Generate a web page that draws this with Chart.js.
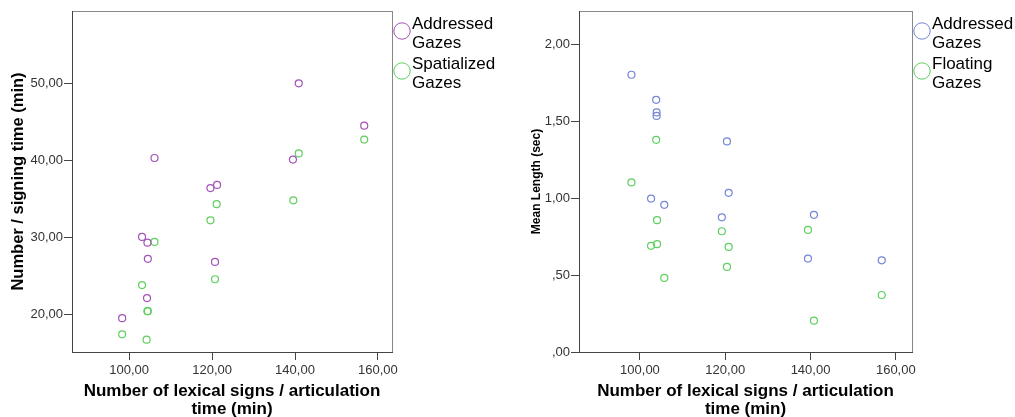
<!DOCTYPE html>
<html>
<head>
<meta charset="utf-8">
<script src="https://cdn.jsdelivr.net/npm/chart.js@4"></script>
<style>
  body { margin: 0; background: #fff; }
  .box { position: absolute; top: 0; }
</style>
</head>
<body>
<div class="box" style="left:0"><canvas id="signingChart" width="510" height="417"></canvas></div>
<div class="box" style="left:510px"><canvas id="lengthChart" width="505" height="417"></canvas></div>
<script>
// shared x axis ticks
const xTicks = [100, 120, 140, 160];

// left chart: signing time
const signingNames = ['Addressed Gazes', 'Spatialized Gazes'];
const signingYTicks = [20, 30, 40, 50];
const addressedX = [98.3, 103.1, 104.4, 104.5, 104.3, 106.1, 119.6, 121.2, 120.7, 139.5, 140.9, 156.7];
const addressedY = [19.5, 30.05, 29.3, 27.2, 22.1, 40.3, 36.4, 36.8, 26.8, 40.1, 50.0, 44.5];
const spatializedX = [98.3, 103.1, 104.4, 104.5, 104.2, 106.1, 119.6, 121.1, 120.7, 139.6, 140.9, 156.7];
const spatializedY = [17.4, 23.8, 20.4, 20.4, 16.7, 29.4, 32.2, 34.3, 24.55, 34.8, 40.9, 42.7];

// right chart: mean length
const lengthNames = ['Addressed Gazes', 'Floating Gazes'];
const lengthYTicks = [0, 0.5, 1, 1.5, 2];
const addrLenX = [98.0, 103.8, 103.9, 103.9, 120.4, 102.6, 105.7, 120.8, 119.2, 140.8, 139.4, 156.7];
const addrLenY = [1.805, 1.642, 1.56, 1.537, 1.371, 0.999, 0.958, 1.036, 0.877, 0.893, 0.608, 0.597];
const floatLenX = [103.8, 98.0, 104.0, 119.2, 139.4, 102.6, 104.0, 120.8, 120.4, 105.7, 156.7, 140.8];
const floatLenY = [1.381, 1.104, 0.858, 0.786, 0.795, 0.691, 0.702, 0.684, 0.554, 0.482, 0.371, 0.204];

Chart.defaults.font.family = '"Liberation Sans", Arial, sans-serif';
Chart.defaults.color = '#333';

const toPoints = (xs, ys) => xs.map((x, i) => ({ x: x, y: ys[i] }));
const comma = v => v.toFixed(2).replace('.', ',');

// grey frame round the plot area
const framePlugin = {
    id: 'frame',
    beforeDraw(chart) {
        const a = chart.chartArea, ctx = chart.ctx;
        ctx.save();
        ctx.strokeStyle = '#888';
        ctx.lineWidth = 1;
        ctx.strokeRect(a.left + 0.5, a.top + 0.5, a.right - a.left, a.bottom - a.top);
        ctx.restore();
    }
};

// SPSS style legend to the right of the plot
const sideLegend = {
    id: 'sideLegend',
    afterDraw(chart) {
        const a = chart.chartArea, ctx = chart.ctx;
        ctx.save();
        chart.data.datasets.forEach((ds, i) => {
            const cy = a.top + 20 + i * 40;
            ctx.beginPath();
            ctx.arc(a.right + 10, cy, 8.2, 0, Math.PI * 2);
            ctx.strokeStyle = ds.borderColor;
            ctx.lineWidth = 1;
            ctx.stroke();
            ctx.fillStyle = '#000';
            ctx.font = '17px "Liberation Sans", Arial, sans-serif';
            ctx.textBaseline = 'middle';
            ctx.textAlign = 'left';
            ds.label.split(' ').forEach((w, j) => ctx.fillText(w, a.right + 20, cy - 6.5 + j * 19));
        });
        ctx.restore();
    }
};

function scatterChart(id, opts) {
    const pt = { pointRadius: 3.5, pointBorderWidth: 1.2, pointBackgroundColor: 'rgba(0,0,0,0)' };
    new Chart(document.getElementById(id), {
        type: 'scatter',
        data: {
            datasets: opts.series.map(s => Object.assign({
                label: s.name,
                data: toPoints(s.xs, s.ys),
                borderColor: s.color,
                pointBorderColor: s.color
            }, pt))
        },
        options: {
            responsive: false,
            animation: false,
            layout: { padding: { left: 0, top: 11, right: opts.rightPad, bottom: 0 } },
            plugins: { legend: { display: false }, tooltip: { enabled: false } },
            scales: {
                x: {
                    type: 'linear',
                    min: opts.xMin,
                    max: opts.xMax,
                    afterBuildTicks: s => { s.ticks = xTicks.map(v => ({ value: v })); },
                    afterFit: s => { s.height = 65; },
                    grid: { drawOnChartArea: false, tickLength: 8, color: '#444' },
                    border: { color: '#444' },
                    ticks: { font: { size: 13 }, color: '#333', padding: 3, maxRotation: 0, callback: v => comma(v) },
                    title: {
                        display: true,
                        text: ['Number of lexical signs / articulation', 'time (min)'],
                        color: '#000',
                        font: { size: 17, weight: 'bold', lineHeight: 1.1 },
                        padding: { top: 0, bottom: -2 }
                    }
                },
                y: {
                    min: opts.yMin,
                    max: opts.yMax,
                    afterBuildTicks: s => { s.ticks = opts.yTicks.map(v => ({ value: v })); },
                    afterFit: s => { s.width = opts.yWidth; },
                    grid: { drawOnChartArea: false, tickLength: 8, color: '#444' },
                    border: { color: '#444' },
                    ticks: { font: { size: 13 }, color: '#333', padding: 1, callback: opts.yFormat },
                    title: {
                        display: true,
                        text: opts.yTitle,
                        color: '#000',
                        font: { size: opts.yTitleSize, weight: 'bold', lineHeight: 1.2 },
                        padding: { top: opts.yTitlePad, bottom: 0 }
                    }
                }
            }
        },
        plugins: [framePlugin, sideLegend]
    });
}

scatterChart('signingChart', {
    series: [
        { name: signingNames[0], xs: addressedX, ys: addressedY, color: '#a452b6' },
        { name: signingNames[1], xs: spatializedX, ys: spatializedY, color: '#5ecf5e' }
    ],
    xMin: 86.2, xMax: 163.4, yMin: 15.1, yMax: 59.4,
    yTicks: signingYTicks, yWidth: 72, rightPad: 118,
    yFormat: v => comma(v),
    yTitle: 'Number / signing time (min)', yTitleSize: 16.5, yTitlePad: 9
});

scatterChart('lengthChart', {
    series: [
        { name: lengthNames[0], xs: addrLenX, ys: addrLenY, color: '#7585d6' },
        { name: lengthNames[1], xs: floatLenX, ys: floatLenY, color: '#5ecf5e' }
    ],
    xMin: 85.7, xMax: 163.8, yMin: 0, yMax: 2.22,
    yTicks: lengthYTicks, yWidth: 69, rightPad: 103,
    yFormat: v => comma(v).replace(/^0/, ''),
    yTitle: 'Mean Length (sec)', yTitleSize: 12, yTitlePad: 19
});
</script>
</body>
</html>
